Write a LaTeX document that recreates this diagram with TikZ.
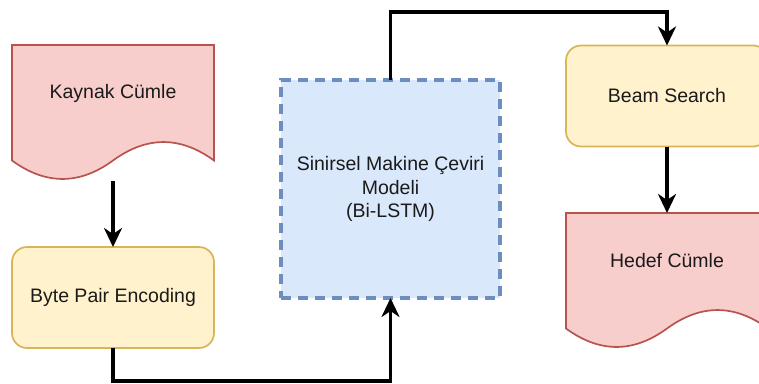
\documentclass[tikz,border=0pt]{standalone}
\usepackage{fontspec}
\setmainfont{Liberation Sans}
\usetikzlibrary{arrows.meta,calc}
\definecolor{redfill}{HTML}{F8CECC}
\definecolor{redline}{HTML}{B85450}
\definecolor{yelfill}{HTML}{FFF2CC}
\definecolor{yelline}{HTML}{D6B656}
\definecolor{bluefill}{HTML}{DAE8FC}
\definecolor{blueline}{HTML}{6C8EBF}
\definecolor{txt}{HTML}{1A1A1A}
\tikzset{
  lbl/.style={font=\fontsize{19.5}{23.5}\selectfont, text=txt, align=center, inner sep=0pt},
  docbox/.style={minimum width=202pt, minimum height=136pt, inner sep=0pt, outer sep=0pt},
  docline/.style={fill=redfill, draw=redline, line width=1.7pt},
  procbox/.style={lbl, draw=yelline, fill=yelfill, line width=1.7pt, rounded corners=15pt,
    minimum width=202pt, minimum height=101pt, outer sep=0pt},
  modelbox/.style={lbl, draw=blueline, fill=bluefill, line width=3.2pt, dash pattern=on 10pt off 7pt,
    minimum width=219pt, minimum height=218pt, outer sep=0pt},
  conn/.style={line width=3.2pt, black, -{Stealth[length=19pt,width=18pt,inset=6pt]}}
}
\newcommand\docshape[1]{%
  \begin{scope}[shift={(#1.north west)}]
    \path[docline] (0,0) -- (202,0) -- (202,115.5)
      .. controls (168.3,90.9) and (134.7,90.9) .. (101,115.5)
      .. controls (67.3,140.1) and (33.7,140.1) .. (0,115.5) -- cycle;
  \end{scope}}
\begin{document}
\begin{tikzpicture}[x=1pt,y=-1pt]
\useasboundingbox (0,0) rectangle (759,383);
\clip (0,0) rectangle (759,383);
% document shapes
\node[docbox] (kaynak) at (113,113) {};
\docshape{kaynak}
\node[lbl] (kaynaklbl) at ($(kaynak.center)+(0,-20)$) {Kaynak Cümle};
\node[docbox] (hedef) at (667,281) {};
\docshape{hedef}
\node[lbl] (hedeflbl) at ($(hedef.center)+(0,-20)$) {Hedef Cümle};
% process boxes
\node[procbox] (bpe) at (113,297.5) {Byte Pair Encoding};
\node[procbox] (beam) at (667,96) {Beam Search};
\node[modelbox] (model) at (390.5,189) {Sinirsel Makine Çeviri\\Modeli\\(Bi-LSTM)};
% connectors
\draw[conn] (kaynak.south) -- (bpe.north);
\draw[conn] (bpe.south) -- ++(0,33) -| (model.south);
\draw[conn] (model.north) -- ++(0,-68) -| (beam.north);
\draw[conn] (beam.south) -- (hedef.north);
\end{tikzpicture}
\end{document}
